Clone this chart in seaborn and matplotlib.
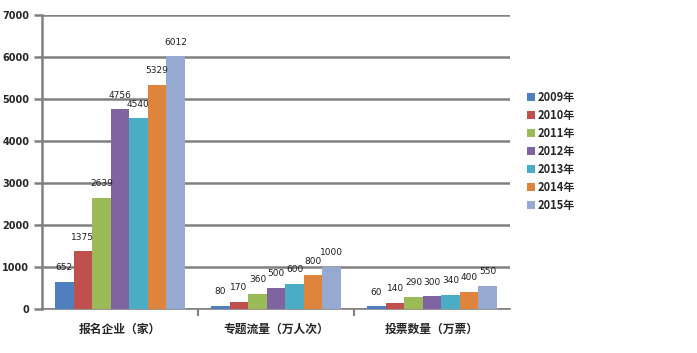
import pandas as pd
import numpy as np
import matplotlib
matplotlib.use("Agg")
import matplotlib.pyplot as plt
import seaborn as sns

categories = ["报名企业（家）", "专题流量（万人次）", "投票数量（万票）"]
years = ["2009年", "2010年", "2011年", "2012年", "2013年", "2014年", "2015年"]
v_2009 = [652, 80, 60]
v_2010 = [1375, 170, 140]
v_2011 = [2639, 360, 290]
v_2012 = [4756, 500, 300]
v_2013 = [4540, 600, 340]
v_2014 = [5329, 800, 400]
v_2015 = [6012, 1000, 550]
series = [v_2009, v_2010, v_2011, v_2012, v_2013, v_2014, v_2015]
y_ticks = [0, 1000, 2000, 3000, 4000, 5000, 6000, 7000]

colors = ["#4F7FBE", "#C0504D", "#9BBB59", "#8064A2", "#4BACC6", "#DF843D", "#95A9D1"]

rows = []
for yr, vals in zip(years, series):
    for cat, v in zip(categories, vals):
        rows.append({"category": cat, "year": yr, "value": v})
df = pd.DataFrame(rows)

sns.set_theme(style="white")
plt.rcParams["font.family"] = ["Noto Sans CJK SC", "DejaVu Sans"]

fig = plt.figure(figsize=(6.97, 3.53), dpi=100)
ax = fig.add_axes([0.060, 0.1246, 0.672, 0.833])

sns.barplot(data=df, x="category", y="value", hue="year", palette=colors,
            width=0.83, saturation=1, ax=ax, legend=True, zorder=3,
            linewidth=0, edgecolor="none")

for cont in ax.containers:
    ax.bar_label(cont, fmt="%d", padding=7, fontsize=6.5, color="#202020",
                 family="DejaVu Sans")

ax.set_ylim(0, 7000)
ax.set_xlim(-0.5, 2.5)
ax.set_yticks(y_ticks)
ax.set_yticklabels([str(t) for t in y_ticks], fontsize=7, fontweight="bold",
                   family="DejaVu Sans")
ax.yaxis.grid(True, color="#808080", linewidth=1.8, zorder=0)
ax.set_axisbelow(True)
ax.tick_params(axis="y", which="major", length=6, width=1.8, color="#808080",
               left=True, pad=3)
ax.set_xticks([0, 1, 2])
ax.set_xticklabels(categories, fontsize=8.5, fontweight="bold")
ax.set_xticks([0.5, 1.5], minor=True)
ax.tick_params(axis="x", which="major", length=0, pad=10)
ax.tick_params(axis="x", which="minor", length=5, width=1.5, color="#808080",
               bottom=True)
ax.set_xlabel("")
ax.set_ylabel("")

for s in ["top", "right"]:
    ax.spines[s].set_visible(False)
ax.spines["left"].set_color("#808080")
ax.spines["left"].set_linewidth(1.8)
ax.spines["bottom"].set_color("#808080")
ax.spines["bottom"].set_linewidth(1.2)

handles, labels = ax.get_legend_handles_labels()
ax.get_legend().remove()
leg = fig.legend(handles, labels, loc="upper left", bbox_to_anchor=(0.742, 0.77),
                 frameon=False, handlelength=0.7, handleheight=0.7,
                 handletextpad=0.2, labelspacing=0.45,
                 prop={"weight": "bold", "size": 8})

fig.savefig("out.png", dpi=100)
